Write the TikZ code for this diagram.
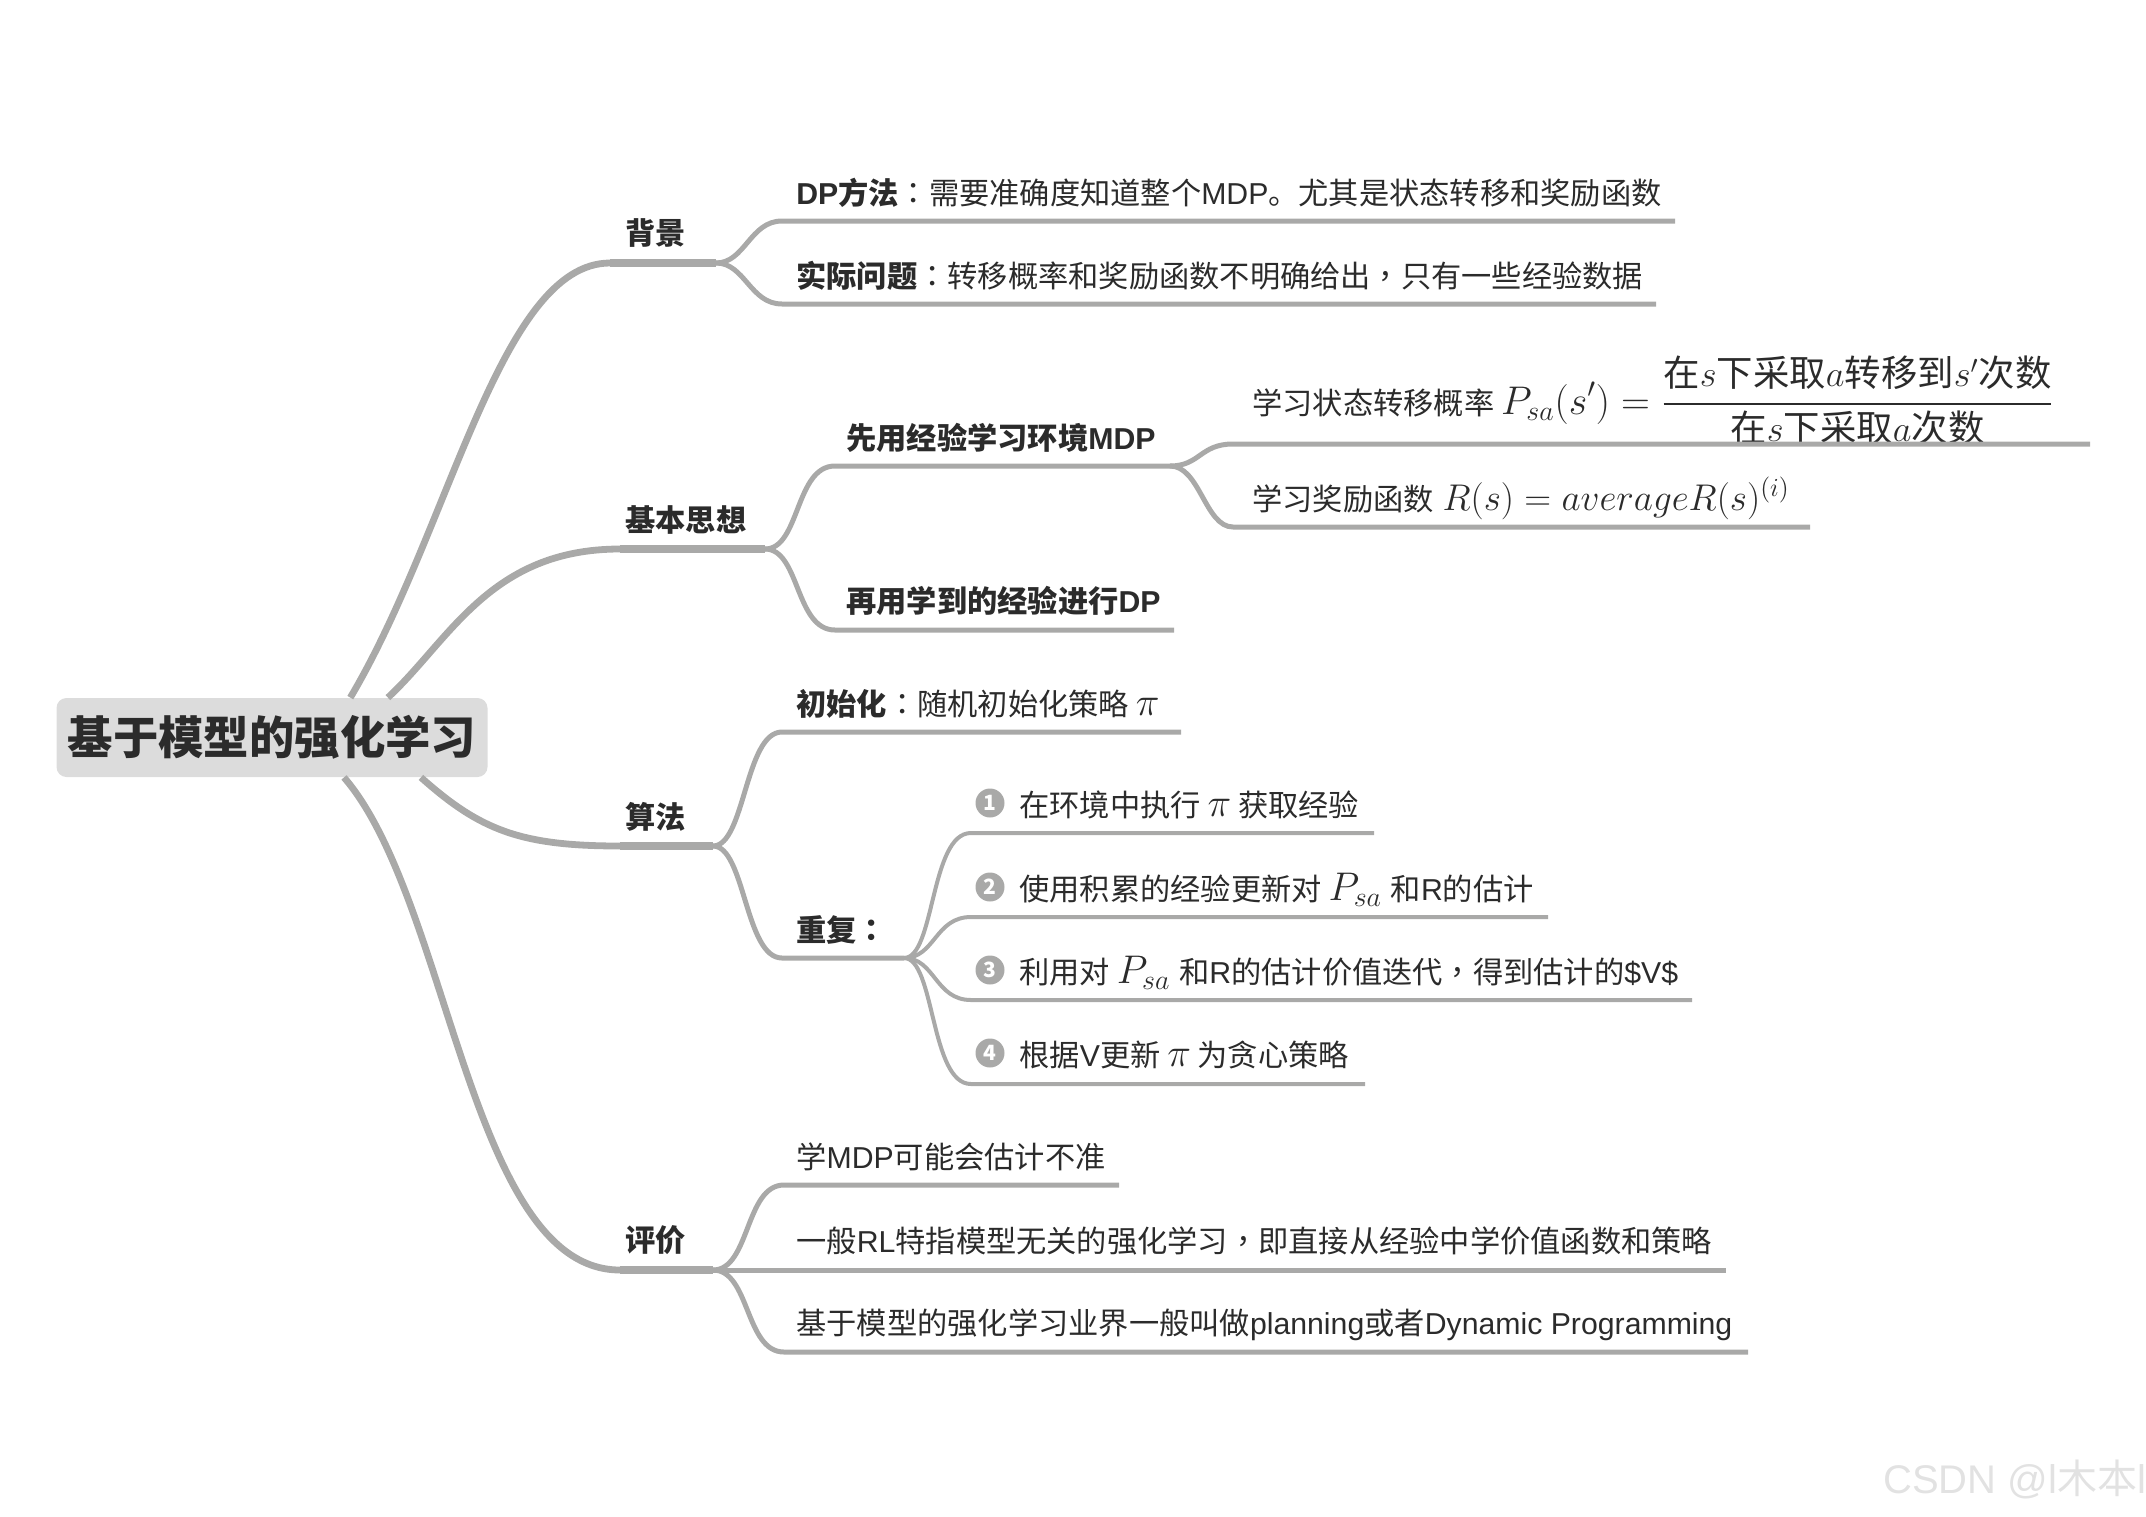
\documentclass[tikz,border=0pt]{standalone}
\usepackage{fix-cm}
\usepackage{amsmath}
\usepackage{fontspec}
\setmainfont{Noto Sans CJK SC}
\newfontfamily\enfont{Liberation Sans}
\newfontfamily\tcfont{Noto Sans CJK TC}
\usetikzlibrary{positioning}
\definecolor{ink}{HTML}{2B2B2B}
\definecolor{wire}{HTML}{A9A9A8}
\definecolor{rootfill}{HTML}{DCDCDC}
\definecolor{wmarkc}{HTML}{E2E2E2}
\newcommand{\en}[1]{{\enfont #1}}
\newcommand{\mth}[2][20]{{\fontsize{#1}{22}\selectfont$#2$}}
\newcommand{\fractxt}[1]{\text{\fontsize{18.2}{22}\selectfont #1}}
\newcommand{\pcolon}{{\tcfont ：}}
\newcommand{\pcomma}{{\tcfont ，}}

\begin{document}
\begin{tikzpicture}[x=0.5pt,y=-0.5pt,
      root/.style={rectangle, rounded corners=5pt, fill=rootfill, text=ink, inner sep=0pt,
                  minimum width=215.5pt, minimum height=39.5pt, font=\fontsize{22.7}{26}\selectfont\bfseries},
      lbl/.style={anchor=base west, inner sep=0pt, text=ink, font=\fontsize{15.12}{18}\selectfont},
      head/.style={lbl, font=\fontsize{15.12}{18}\selectfont\bfseries},
      num/.style={circle, fill=wire, text=white, inner sep=0pt, minimum size=14.5pt,
                  font=\fontsize{10.5}{12}\selectfont\bfseries},
      wmark/.style={anchor=base west, inner sep=0pt, text=wmarkc, font=\fontsize{20}{24}\selectfont},
      main/.style={draw=wire, line width=3.4pt},
      trunk/.style={draw=wire, line width=3.8pt},
      twig/.style={draw=wire, line width=2.5pt},
      leaf/.style={draw=wire, line width=2pt}]
    \useasboundingbox (0,0) rectangle (2146,1516);

    \node[root] (rt) at (272,737.5) {基于模型的强化学习};

    \node[head] (bg) at (625,244) {背景};
    \node[head] (idea) at (625,531) {基本思想};
    \node[head] (algo) at (625,828) {算法};
    \node[head] (eval) at (625,1251) {评价};

    \node[lbl] (dp) at (796,204) {\textbf{\en{DP}方法}\pcolon 需要准确度知道整个\en{MDP}。尤其是状态转移和奖励函数};
    \node[lbl] (prob) at (796,287) {\textbf{实际问题}\pcolon 转移概率和奖励函数不明确给出\pcomma 只有一些经验数据};
    \node[head] (first) at (846,449) {先用经验学习环境\en{MDP}};
    \node[head] (then) at (846,612) {再用学到的经验进行\en{DP}};
    \node[lbl] (trans) at (1252,414) {学习状态转移概率 \mth{\displaystyle P_{sa}(s')=\genfrac{}{}{0.9pt}{}{\fractxt{在$s$下采取$a$转移到$s'$次数}}{\fractxt{在$s$下采取$a$次数}}}};
    \node[lbl] (rew) at (1252,510) {学习奖励函数 \hspace{1pt}\mth[18.6]{R(s)=averageR(s)^{(i)}}};
    \node[lbl] (init) at (796,715) {\textbf{初始化}\pcolon 随机初始化策略 \mth{\pi}};
    \node[head] (rep) at (796,941) {重复\pcolon};

    \node[num] (n1) at (990,803) {1};
    \node[num] (n2) at (990,887) {2};
    \node[num] (n3) at (990,970) {3};
    \node[num] (n4) at (990,1053) {4};
    \node[lbl] (s1) at (1019,816) {在环境中执行 \mth{\pi} 获取经验};
    \node[lbl] (s2) at (1019,900) {使用积累的经验更新对 \mth{P_{sa}}\hspace{1pt} 和\en{R}的估计};
    \node[lbl] (s3) at (1019,983) {利用对 \mth{P_{sa}}\hspace{1pt} 和\en{R}的估计价值迭代\pcomma 得到估计的\en{\$V\$}};
    \node[lbl] (s4) at (1019,1066) {根据\en{V}更新 \mth{\pi} 为贪心策略};

    \node[lbl] (e1) at (796,1168) {学\en{MDP}可能会估计不准};
    \node[lbl] (e2) at (796,1252) {一般\en{RL}特指模型无关的强化学习\pcomma 即直接从经验中学价值函数和策略};
    \node[lbl] (e3) at (796,1334) {基于模型的强化学习业界一般叫做\en{planning}或者\en{Dynamic Programming}};

    \node[wmark] (mark) at (1883,1493) {\en{CSDN @l}木本\en{l}};

    \coordinate (bgA) at (610,263);  \coordinate (bgB) at (716,263);
    \coordinate (ideaA) at (620,549); \coordinate (ideaB) at (765,549);
    \coordinate (algoA) at (620,846); \coordinate (algoB) at (713,846);
    \coordinate (evalA) at (620,1270); \coordinate (evalB) at (713,1270);
    \coordinate (dpA) at (782,221);  \coordinate (dpB) at (1675,221);
    \coordinate (probA) at (782,304); \coordinate (probB) at (1656,304);
    \coordinate (firstA) at (835,466); \coordinate (firstB) at (1170,466);
    \coordinate (thenA) at (835,630); \coordinate (thenB) at (1174,630);
    \coordinate (transA) at (1233,444); \coordinate (transB) at (2090,444);
    \coordinate (rewA) at (1233,527); \coordinate (rewB) at (1810,527);
    \coordinate (initA) at (782,732); \coordinate (initB) at (1181,732);
    \coordinate (repA) at (782,958); \coordinate (repB) at (904,958);
    \coordinate (s1A) at (971,833); \coordinate (s1B) at (1374,833);
    \coordinate (s2A) at (971,917); \coordinate (s2B) at (1548,917);
    \coordinate (s3A) at (971,1000); \coordinate (s3B) at (1692,1000);
    \coordinate (s4A) at (971,1084); \coordinate (s4B) at (1365,1084);
    \coordinate (e1A) at (784,1185); \coordinate (e1B) at (1119,1185);
    \coordinate (e2B) at (1726,1270);
    \coordinate (e3A) at (784,1352); \coordinate (e3B) at (1748,1352);

    \draw[main] (rt.27.5) .. controls (450,530) and (500,263) .. (bgA);
    \draw[main] (rt.19) .. controls (450,640) and (490,549) .. (ideaA);
    \draw[main] (rt.-15.4) .. controls (480,830) and (520,846) .. (algoA);
    \draw[main] (rt.-29) .. controls (450,900) and (470,1270) .. (evalA);
    \draw[trunk] (bgA) -- (bgB); \draw[trunk] (ideaA) -- (ideaB);
    \draw[trunk] (algoA) -- (algoB); \draw[trunk] (evalA) -- (evalB);

    \draw[twig] (bgB) .. controls (745,263) and (750,221) .. (dpA) -- (dpB);
    \draw[twig] (bgB) .. controls (745,263) and (750,304) .. (probA) -- (probB);
    \draw[twig] (ideaB) .. controls (800,549) and (795,466) .. (firstA) -- (firstB);
    \draw[twig] (ideaB) .. controls (800,549) and (795,630) .. (thenA) -- (thenB);
    \draw[twig] (firstB) .. controls (1200,466) and (1200,444) .. (transA) -- (transB);
    \draw[twig] (firstB) .. controls (1200,466) and (1205,527) .. (rewA) -- (rewB);
    \draw[twig] (algoB) .. controls (745,846) and (745,732) .. (initA) -- (initB);
    \draw[twig] (algoB) .. controls (745,846) and (745,958) .. (repA) -- (repB);
    \draw[leaf] (repB) .. controls (935,958) and (930,833) .. (s1A) -- (s1B);
    \draw[leaf] (repB) .. controls (935,958) and (935,917) .. (s2A) -- (s2B);
    \draw[leaf] (repB) .. controls (935,958) and (935,1000) .. (s3A) -- (s3B);
    \draw[leaf] (repB) .. controls (935,958) and (930,1084) .. (s4A) -- (s4B);
    \draw[twig] (evalB) .. controls (750,1270) and (745,1185) .. (e1A) -- (e1B);
    \draw[twig] (evalB) -- (e2B);
    \draw[twig] (evalB) .. controls (750,1270) and (745,1352) .. (e3A) -- (e3B);
  \end{tikzpicture}
\end{document}
